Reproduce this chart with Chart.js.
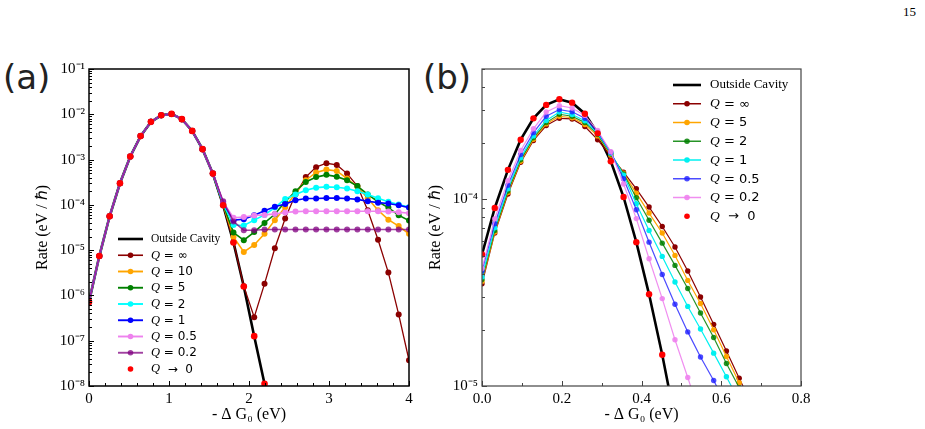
<!DOCTYPE html>
<html>
<head>
<meta charset="utf-8">
<script src="https://cdn.jsdelivr.net/npm/chart.js@4.4.1/dist/chart.umd.min.js"></script>
<style>
  body { margin: 0; width: 925px; height: 429px; position: relative; background: #fff; overflow: hidden; }
  canvas { position: absolute; top: 0; }
  #chartA { left: 0; }
  #chartB { left: 420px; }
  .tag { position: absolute; top: 60px; font-family: "DejaVu Sans"; font-size: 34px; line-height: 1; color: #222; }
  .page { position: absolute; left: 903px; top: 4px; font: 13px "Liberation Serif"; }
</style>
</head>
<body>
<div class="tag" style="left:3px">(a)</div>
<div class="tag" style="left:423px">(b)</div>
<div class="page">15</div>
<canvas id="chartA" width="420" height="429"></canvas>
<canvas id="chartB" width="505" height="429"></canvas>
<script>
// ---- panel (a): -dG0 from 0 to 4 eV ----
const xA = [0, 0.129, 0.258, 0.387, 0.516, 0.645, 0.774, 0.903, 1.032, 1.161, 1.290, 1.419, 1.548, 1.677, 1.806, 1.935,
  2.065, 2.194, 2.323, 2.452, 2.581, 2.710, 2.839, 2.968, 3.097, 3.226, 3.355, 3.484, 3.613, 3.742, 3.871, 4.0];

const outsideA = [7.2e-7, 7.4e-6, 5.6e-5, 3.0e-4, 1.17e-3, 3.3e-3, 6.8e-3, 9.5e-3, 1.02e-2, 7.8e-3, 4.3e-3, 1.7e-3, 4.9e-4,
  9.8e-5, 1.48e-5, 1.58e-6, 1.26e-7, 1.12e-8, 5e-10];
const qInfA = [7.2e-7, 7.4e-6, 5.6e-5, 3.0e-4, 1.17e-3, 3.3e-3, 6.8e-3, 9.5e-3, 1.02e-2, 7.8e-3, 4.3e-3, 1.7e-3, 4.9e-4,
  9.9e-5, 1.5e-5, 1.6e-6, 3.3e-7, 1.8e-6, 1.1e-5, 5.0e-5, 1.7e-4, 4.1e-4, 6.8e-4, 8.3e-4, 7.6e-4, 4.9e-4, 2.6e-4,
  7.6e-5, 1.7e-5, 3.2e-6, 3.8e-7, 3.7e-8];
const q10A = [7.2e-7, 7.4e-6, 5.6e-5, 3.0e-4, 1.17e-3, 3.3e-3, 6.8e-3, 9.5e-3, 1.02e-2, 7.8e-3, 4.3e-3, 1.7e-3, 4.9e-4,
  1.0e-4, 1.95e-5, 9.1e-6, 1.3e-5, 2.3e-5, 4.6e-5, 8.9e-5, 1.8e-4, 3.5e-4, 5.2e-4, 6.0e-4, 5.6e-4, 3.8e-4, 2.5e-4,
  1.4e-4, 7.6e-5, 4.7e-5, 3.4e-5, 2.3e-5];
const q5A = [7.2e-7, 7.4e-6, 5.6e-5, 3.0e-4, 1.17e-3, 3.3e-3, 6.8e-3, 9.5e-3, 1.02e-2, 7.8e-3, 4.3e-3, 1.7e-3, 4.9e-4,
  1.0e-4, 2.45e-5, 1.66e-5, 2.5e-5, 4.0e-5, 6.2e-5, 1.17e-4, 2.0e-4, 3.2e-4, 4.1e-4, 4.6e-4, 4.2e-4, 3.5e-4, 2.6e-4,
  1.7e-4, 1.17e-4, 8.7e-5, 5.9e-5, 4.5e-5];
const q2A = [7.2e-7, 7.4e-6, 5.6e-5, 3.0e-4, 1.17e-3, 3.3e-3, 6.8e-3, 9.5e-3, 1.02e-2, 7.8e-3, 4.3e-3, 1.7e-3, 4.9e-4,
  1.05e-4, 3.6e-5, 3.5e-5, 4.6e-5, 6.0e-5, 8.7e-5, 1.35e-4, 1.7e-4, 2.1e-4, 2.4e-4, 2.5e-4, 2.45e-4, 2.3e-4, 2.0e-4,
  1.7e-4, 1.4e-4, 1.17e-4, 1.02e-4, 8.9e-5];
const q1A = [7.2e-7, 7.4e-6, 5.6e-5, 3.0e-4, 1.17e-3, 3.3e-3, 6.8e-3, 9.5e-3, 1.02e-2, 7.8e-3, 4.3e-3, 1.7e-3, 4.9e-4,
  1.1e-4, 4.6e-5, 4.8e-5, 5.9e-5, 7.4e-5, 9.1e-5, 1.05e-4, 1.26e-4, 1.38e-4, 1.38e-4, 1.41e-4, 1.41e-4, 1.38e-4, 1.32e-4,
  1.2e-4, 1.12e-4, 1.07e-4, 9.8e-5, 8.7e-5];
const q05A = [7.2e-7, 7.4e-6, 5.6e-5, 3.0e-4, 1.17e-3, 3.3e-3, 6.8e-3, 9.5e-3, 1.02e-2, 7.8e-3, 4.3e-3, 1.7e-3, 4.9e-4,
  1.15e-4, 5.2e-5, 5.4e-5, 5.8e-5, 6.0e-5, 6.3e-5, 6.8e-5, 7.1e-5, 7.2e-5, 7.2e-5, 7.2e-5, 7.2e-5, 7.2e-5, 7.2e-5,
  7.2e-5, 7.2e-5, 7.1e-5, 6.9e-5, 6.5e-5];
const q02A = [7.2e-7, 7.4e-6, 5.6e-5, 3.0e-4, 1.17e-3, 3.3e-3, 6.8e-3, 9.5e-3, 1.02e-2, 7.8e-3, 4.3e-3, 1.7e-3, 4.9e-4,
  1.2e-4, 4.3e-5, 2.75e-5, 2.75e-5, 2.85e-5, 2.85e-5, 2.85e-5, 2.85e-5, 2.85e-5, 2.85e-5, 2.85e-5, 2.85e-5, 2.85e-5,
  2.85e-5, 2.85e-5, 2.85e-5, 2.85e-5, 2.85e-5, 2.85e-5];
const qZeroA = [7.2e-7, 7.4e-6, 5.6e-5, 3.0e-4, 1.17e-3, 3.3e-3, 6.8e-3, 9.5e-3, 1.02e-2, 7.8e-3, 4.3e-3, 1.7e-3, 4.9e-4,
  9.8e-5, 1.48e-5, 1.58e-6, 1.26e-7, 1.12e-8];
const yTicksA = [1e-8, 1e-7, 1e-6, 1e-5, 1e-4, 1e-3, 1e-2, 1e-1];

// ---- panel (b): zoom on 0 to 0.8 eV ----
const xB = [0, 0.032, 0.065, 0.097, 0.129, 0.161, 0.194, 0.226, 0.258, 0.290, 0.323, 0.355, 0.387, 0.419, 0.452,
  0.484, 0.516, 0.548, 0.581, 0.613, 0.645, 0.677];

const outsideB = [5.07e-5, 9.0e-5, 1.44e-4, 2.09e-4, 2.72e-4, 3.21e-4, 3.44e-4, 3.30e-4, 2.88e-4, 2.26e-4, 1.60e-4,
  1.03e-4, 5.9e-5, 3.10e-5, 1.47e-5, 6.6e-6];
const qInfB = [3.53e-5, 6.61e-5, 1.07e-4, 1.58e-4, 2.07e-4, 2.49e-4, 2.72e-4, 2.70e-4, 2.46e-4, 2.09e-4, 1.70e-4,
  1.40e-4, 1.14e-4, 9.1e-5, 7.16e-5, 5.56e-5, 4.13e-5, 3.0e-5, 2.14e-5, 1.54e-5, 1.10e-5, 7.9e-6];
const q5B = [3.63e-5, 6.68e-5, 1.09e-4, 1.60e-4, 2.10e-4, 2.54e-4, 2.79e-4, 2.74e-4, 2.52e-4, 2.19e-4, 1.73e-4,
  1.38e-4, 1.08e-4, 8.45e-5, 6.61e-5, 5.01e-5, 3.68e-5, 2.77e-5, 2.0e-5, 1.44e-5, 1.04e-5, 7.4e-6];
const q2B = [3.72e-5, 6.82e-5, 1.11e-4, 1.63e-4, 2.14e-4, 2.58e-4, 2.86e-4, 2.79e-4, 2.58e-4, 2.23e-4, 1.75e-4,
  1.37e-4, 1.02e-4, 7.73e-5, 5.83e-5, 4.43e-5, 3.33e-5, 2.46e-5, 1.82e-5, 1.32e-5, 9.8e-6, 7.1e-6];
const q1B = [3.84e-5, 7.05e-5, 1.14e-4, 1.67e-4, 2.19e-4, 2.65e-4, 2.94e-4, 2.85e-4, 2.64e-4, 2.26e-4, 1.77e-4,
  1.35e-4, 9.48e-5, 6.82e-5, 4.95e-5, 3.61e-5, 2.67e-5, 2.02e-5, 1.50e-5, 1.12e-5, 8.3e-6];
const q05B = [4.13e-5, 7.41e-5, 1.19e-4, 1.74e-4, 2.28e-4, 2.79e-4, 3.03e-4, 2.95e-4, 2.72e-4, 2.30e-4, 1.79e-4,
  1.29e-4, 8.81e-5, 5.9e-5, 3.96e-5, 2.74e-5, 1.95e-5, 1.43e-5, 1.07e-5, 7.9e-6];
const q02B = [4.26e-5, 7.87e-5, 1.26e-4, 1.83e-4, 2.39e-4, 2.94e-4, 3.18e-4, 3.09e-4, 2.82e-4, 2.34e-4, 1.80e-4,
  1.21e-4, 7.89e-5, 4.81e-5, 2.94e-5, 1.77e-5, 1.11e-5, 6.9e-6];
const qZeroB = [5.07e-5, 9.0e-5, 1.44e-4, 2.09e-4, 2.72e-4, 3.21e-4, 3.44e-4, 3.30e-4, 2.88e-4, 2.26e-4, 1.60e-4,
  1.03e-4, 5.9e-5, 3.10e-5, 1.47e-5];
const yTicksB = [1e-5, 1e-4];

const SUP = { '-': '\u207b', '0': '\u2070', '1': '\u00b9', '2': '\u00b2', '3': '\u00b3', '4': '\u2074',
  '5': '\u2075', '6': '\u2076', '7': '\u2077', '8': '\u2078', '9': '\u2079' };

function pow10Label(v) {
  const e = Math.round(Math.log10(v));
  return '10' + String(e).split('').map((c) => SUP[c]).join('');
}

function pts(xs, ys) {
  return ys.map((y, i) => ({ x: xs[i], y }));
}

function line(label, xs, ys, color, width, radius, order) {
  return {
    label, order,
    data: pts(xs, ys),
    borderColor: color,
    backgroundColor: color,
    pointBackgroundColor: color,
    borderWidth: width,
    pointRadius: radius,
    pointBorderWidth: 0,
    tension: 0,
  };
}

function dots(label, xs, ys, color, radius, order) {
  return Object.assign(line(label, xs, ys, color, 0, radius, order), { showLine: false });
}

// inward ticks, box frame and the in-axes legend
const frameTicks = {
  id: 'frameTicks',
  afterDatasetsDraw(chart, args, o) {
    const { ctx, chartArea: a, scales: { x, y } } = chart;
    ctx.save();
    ctx.strokeStyle = o.frameColor;
    ctx.lineWidth = o.frameWidth;
    ctx.strokeRect(a.left, a.top, a.right - a.left, a.bottom - a.top);

    ctx.beginPath();
    ctx.lineWidth = 1;
    for (let v = x.min; v <= x.max + 1e-9; v += o.xMinor) {
      const px = Math.round(x.getPixelForValue(v)) + 0.5;
      const major = Math.abs(v / o.xMajor - Math.round(v / o.xMajor)) < 1e-6;
      ctx.moveTo(px, a.bottom);
      ctx.lineTo(px, a.bottom - (major ? o.majorLen : o.minorLen));
    }
    const e0 = Math.floor(Math.log10(y.min) + 1e-9);
    const e1 = Math.ceil(Math.log10(y.max) - 1e-9);
    for (let e = e0; e <= e1; e++) {
      for (let k = 1; k <= 9; k++) {
        const v = k * Math.pow(10, e);
        if (v < y.min * 0.999 || v > y.max * 1.001) continue;
        const py = Math.round(y.getPixelForValue(v)) + 0.5;
        ctx.moveTo(a.left, py);
        ctx.lineTo(a.left + (k === 1 ? o.majorLen : o.minorLen), py);
      }
    }
    ctx.stroke();

    // legend
    const x0 = a.left + o.legendLeft;
    chart.data.datasets.forEach((ds, i) => {
      const cy = a.top + o.legendTop + i * o.rowGap;
      if (ds.showLine !== false) {
        ctx.beginPath();
        ctx.strokeStyle = ds.borderColor;
        ctx.lineWidth = ds.label === 'Outside Cavity' ? ds.borderWidth : ds.borderWidth + 0.3;
        ctx.moveTo(x0, cy);
        ctx.lineTo(x0 + o.lineLen, cy);
        ctx.stroke();
      }
      if (ds.pointRadius > 0) {
        ctx.beginPath();
        ctx.fillStyle = ds.pointBackgroundColor;
        ctx.arc(x0 + o.lineLen / 2, cy, o.markerR, 0, Math.PI * 2);
        ctx.fill();
      }
      let tx = x0 + o.textGap;
      ctx.fillStyle = '#000';
      ctx.textBaseline = 'middle';
      ctx.textAlign = 'left';
      if (ds.label.startsWith('Q')) {
        ctx.font = 'italic ' + o.qSize + 'px "Liberation Serif"';
        ctx.fillText('Q', tx, cy);
        tx += ctx.measureText('Q').width;
        ctx.font = o.sansSize + 'px "DejaVu Sans"';
        ctx.fillText(ds.label.slice(1), tx, cy + 0.5);
      } else {
        ctx.font = o.serifSize + 'px "Liberation Serif"';
        ctx.fillText(ds.label, tx, cy);
      }
    });
    ctx.restore();
  },
};

function makeChart(id, c) {
  return new Chart(document.getElementById(id), {
    type: 'line',
    data: { datasets: c.datasets },
    options: {
      responsive: false,
      animation: false,
      events: [],
      layout: { padding: c.padding },
      plugins: { legend: { display: false }, tooltip: { enabled: false }, frameTicks: c.frame },
      scales: {
        x: {
          type: 'linear', min: c.xMin, max: c.xMax,
          grid: { display: false, drawTicks: false },
          border: { display: false },
          ticks: {
            stepSize: c.xStep, padding: 4, color: '#000',
            font: { family: 'Liberation Serif', size: 15 },
            callback: c.xLabel,
          },
          title: {
            display: true, text: '- \u0394 G\u2080 (eV)', color: '#000',
            font: { family: 'Liberation Serif', size: 16 },
            padding: { top: 0, bottom: 5 },
          },
          afterFit: (s) => { s.height = 43; },
        },
        y: {
          type: 'logarithmic', min: c.yMin, max: c.yMax,
          grid: { display: false, drawTicks: false },
          border: { display: false },
          ticks: {
            autoSkip: false, padding: 4, color: '#000',
            font: { family: 'Liberation Serif', size: 15 },
            callback: (v) => pow10Label(v),
          },
          afterBuildTicks: (s) => { s.ticks = c.yTicks.map((v) => ({ value: v })); },
          title: {
            display: true, text: 'Rate (eV / \u210f)', color: '#000',
            font: { family: 'Liberation Serif', size: 16 },
            padding: { top: c.yTitlePad, bottom: 0 },
          },
          afterFit: (s) => { s.width = c.yWidth; },
        },
      },
    },
    plugins: [frameTicks],
  });
}

makeChart('chartA', {
  padding: { left: 0, top: 69, right: 11, bottom: 0 },
  xMin: 0, xMax: 4, xStep: 1, xLabel: (v) => String(v),
  yMin: 1e-8, yMax: 1e-1, yTicks: yTicksA, yWidth: 89, yTitlePad: 33,
  frame: {
    frameColor: '#000', frameWidth: 1.5, xMinor: 0.2, xMajor: 1, majorLen: 5, minorLen: 3,
    legendLeft: 29, legendTop: 170, rowGap: 16.25, lineLen: 25, markerR: 2.8, textGap: 33,
    serifSize: 11.5, sansSize: 12, qSize: 12.5,
  },
  datasets: [
    line('Outside Cavity', xA, outsideA, '#000000', 2.6, 0, 9),
    line('Q = \u221e', xA, qInfA, '#8b0000', 1.3, 3, 8),
    line('Q = 10', xA, q10A, '#ffa500', 1.6, 3, 7),
    line('Q = 5', xA, q5A, '#008000', 1.6, 3, 6),
    line('Q = 2', xA, q2A, '#00ffff', 1.6, 3, 5),
    line('Q = 1', xA, q1A, '#0000ff', 1.6, 3, 4),
    line('Q = 0.5', xA, q05A, '#ee82ee', 1.6, 3, 3),
    line('Q = 0.2', xA, q02A, 'rgba(128,0,128,0.75)', 1.6, 3, 2),
    dots('Q  \u2192  0', xA, qZeroA, '#ff0000', 3.3, 1),
  ],
});

makeChart('chartB', {
  padding: { left: 0, top: 69, right: 124, bottom: 0 },
  xMin: 0, xMax: 0.8, xStep: 0.2, xLabel: (v) => v.toFixed(1),
  yMin: 1e-5, yMax: 5e-4, yTicks: yTicksB, yWidth: 62, yTitlePad: 6,
  frame: {
    frameColor: '#444', frameWidth: 1.2, xMinor: 0.1, xMajor: 0.2, majorLen: 5, minorLen: 3,
    legendLeft: 191, legendTop: 16, rowGap: 18.75, lineLen: 28, markerR: 2.8, textGap: 37,
    serifSize: 13, sansSize: 13, qSize: 13.5,
  },
  datasets: [
    line('Outside Cavity', xB, outsideB, '#000000', 2.6, 0, 9),
    line('Q = \u221e', xB, qInfB, '#8b0000', 1.2, 2.7, 8),
    line('Q = 5', xB, q5B, '#ffa500', 1.2, 2.7, 7),
    line('Q = 2', xB, q2B, 'rgba(0,128,0,0.85)', 1.2, 2.7, 6),
    line('Q = 1', xB, q1B, '#00f0f0', 1.2, 2.7, 5),
    line('Q = 0.5', xB, q05B, 'rgba(30,30,255,0.8)', 1.2, 2.7, 4),
    line('Q = 0.2', xB, q02B, 'rgba(238,130,238,0.9)', 1.2, 2.7, 3),
    dots('Q  \u2192  0', xB, qZeroB, '#ff0000', 3.2, 1),
  ],
});
</script>
</body>
</html>
